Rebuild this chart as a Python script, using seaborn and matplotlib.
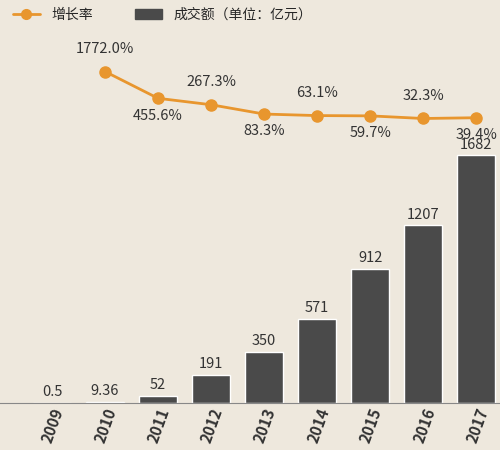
import matplotlib
matplotlib.use("Agg")
import matplotlib.pyplot as plt
import seaborn as sns
import numpy as np
import pandas as pd
from matplotlib.lines import Line2D
from matplotlib.patches import Patch

years = ["2009","2010","2011","2012","2013","2014","2015","2016","2017"]
volume = [0.5, 9.36, 52, 191, 350, 571, 912, 1207, 1682]
volume_labels = ["0.5","9.36","52","191","350","571","912","1207","1682"]
growth_years = ["2010","2011","2012","2013","2014","2015","2016","2017"]
growth = [1772.0, 455.6, 267.3, 83.3, 63.1, 59.7, 32.3, 39.4]

sns.set_style("white")
plt.rcParams['font.family'] = ['Noto Sans CJK SC', 'DejaVu Sans']

bg = "#eee8dd"
fig = plt.figure(figsize=(5, 4.5), dpi=100, facecolor=bg)
ax = fig.add_axes([0, 0.104, 1, 0.84])
ax.set_facecolor(bg)
df = pd.DataFrame({"year": years, "v": volume})
sns.barplot(data=df, x="year", y="v", color="#4a4a4a", width=0.72, ax=ax, saturation=1)
ax.set_xlim(-0.98, 8.45)
ax.set_ylim(0, 2564)
for i, (v, t) in enumerate(zip(volume, volume_labels)):
    ax.text(i, v + 25, t, ha="center", va="bottom", fontsize=10.5, color="#333333")
for s in ["top", "right", "left"]:
    ax.spines[s].set_visible(False)
ax.spines["bottom"].set_color("#888888")
ax.set_yticks([])
ax.set_xlabel(""); ax.set_ylabel("")
ax.tick_params(axis="x", length=0, pad=2)
ax.set_xticks(range(len(years)))
ax.set_xticklabels(years, fontsize=11, fontweight="bold", color="#333333")
for lab in ax.get_xticklabels():
    lab.set_rotation(70); lab.set_ha("right"); lab.set_rotation_mode("anchor")

ax2 = ax.twinx()
ax2.set_ylim(-215, 78)
ax2.axis("off")
gx = [years.index(y) for y in growth_years]
gs = np.sqrt(growth)
ax2.plot(gx, gs, color="#e8962e", lw=2, marker="o", ms=8, zorder=5)
for k, (x, s, g) in enumerate(zip(gx, gs, growth)):
    dy = 12 if k % 2 == 0 else -8
    ax2.text(x, s + dy, f"{g:.1f}%", ha="center", va="bottom" if dy > 0 else "top",
             fontsize=10.5, color="#333333")

handles = [Line2D([], [], color="#e8962e", lw=2, marker="o", ms=7),
           Patch(color="#4a4a4a")]
fig.legend(handles, ["增长率", "成交额（单位：亿元）"], loc="upper left",
           bbox_to_anchor=(0.0, 1.01), ncol=2, frameon=False, fontsize=10,
           columnspacing=3)
fig.savefig("out.png", facecolor=bg)
